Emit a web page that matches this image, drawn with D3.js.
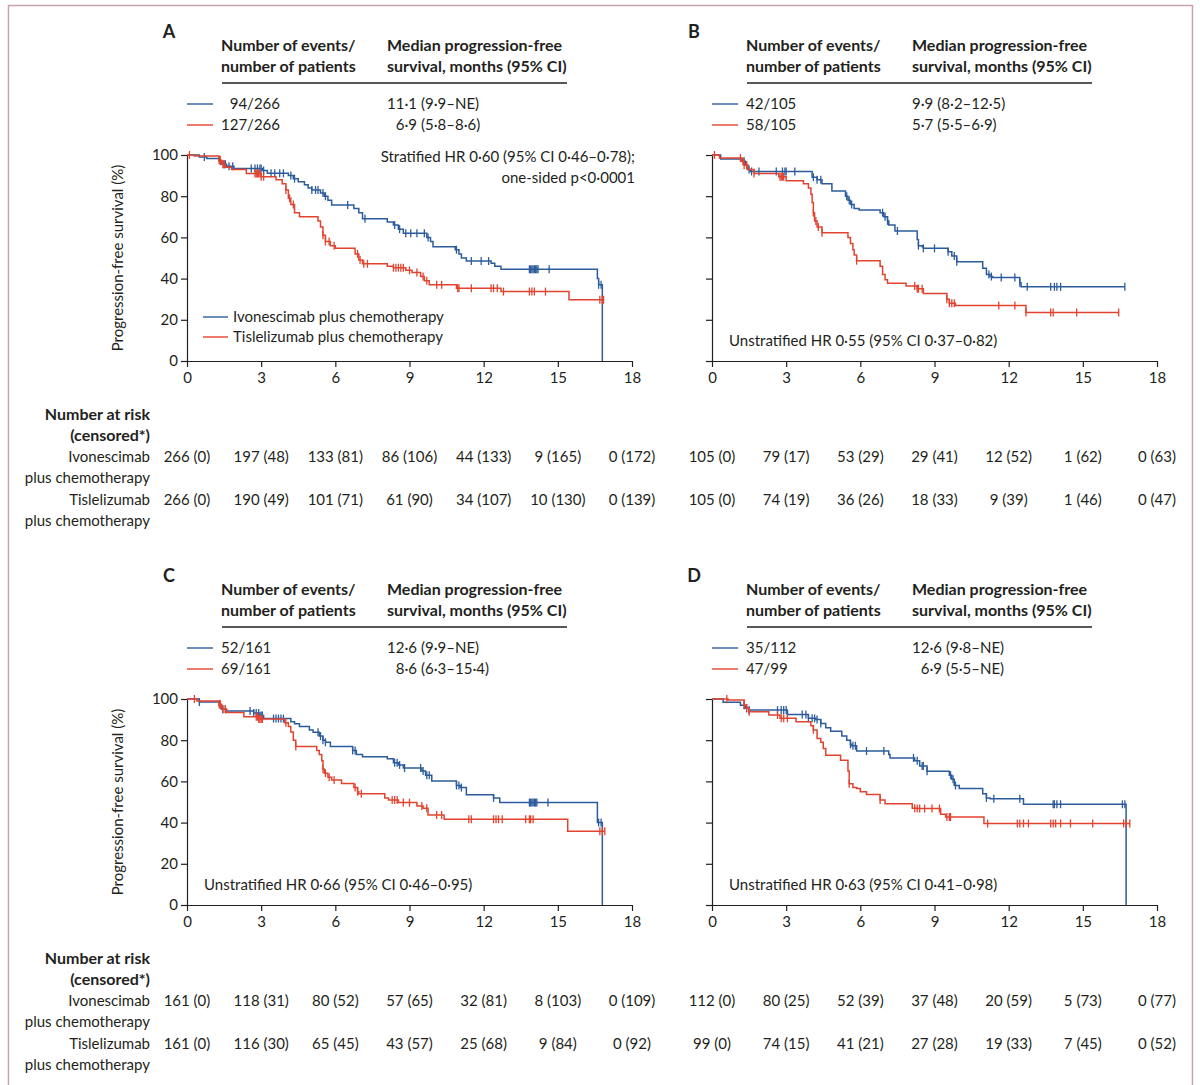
<!DOCTYPE html>
<html>
<head>
<meta charset="utf-8">
<script src="https://cdn.jsdelivr.net/npm/d3@7"></script>
<style>
  body { margin: 0; background: #fff; }
  svg { display: block; font-family: Lato, "Open Sans", sans-serif; }
</style>
</head>
<body>
<svg id="chart" width="1200" height="1085"></svg>
<script>
// Kaplan-Meier panels A-D, progression-free survival
// step arrays hold [month, survival % after the drop]; censor arrays hold months

const months = [0, 3, 6, 9, 12, 15, 18];
const pctTicks = [0, 20, 40, 60, 80, 100];
const armNames = ["Ivonescimab plus chemotherapy", "Tislelizumab plus chemotherapy"];
const riskRowLabels = ["Number at risk", "(censored*)", "Ivonescimab", "plus chemotherapy", "Tislelizumab", "plus chemotherapy"];
const headerEvents = ["Number of events/", "number of patients"];
const headerMedian = ["Median progression-free", "survival, months (95% CI)"];

// ---- panel A
const aEvents = [["94", "/266"], ["127", "/266"]];
const aMedians = [["11·1", "(9·9–NE)"], ["6·9", "(5·8–8·6)"]];
const aHR = ["Stratified HR 0·60 (95% CI 0·46–0·78);", "one-sided p<0·0001"];
const aRiskIvo = ["266 (0)", "197 (48)", "133 (81)", "86 (106)", "44 (133)", "9 (165)", "0 (172)"];
const aRiskTis = ["266 (0)", "190 (49)", "101 (71)", "61 (90)", "34 (107)", "10 (130)", "0 (139)"];
const aIvoSteps = [[0.5,99],[0.8,98.3],[1.3,97],[1.45,95.5],[1.6,94.5],[1.9,93.5],[3.05,92.5],[3.25,91.1],[4.1,90],[4.3,88.5],[4.5,87],[4.75,85.5],[4.9,84],[5.05,83],[5.4,81.5],[5.55,80],[5.7,78],[5.85,75.7],[6.75,74],[6.95,72],[7.1,69],[8.1,67.5],[8.35,66],[8.55,64],[8.75,62],[9.7,60],[9.85,58],[9.95,55.5],[10.85,54],[11.0,52],[11.1,50],[11.3,48.5],[12.3,47.5],[12.45,46],[12.7,44.5],[16.6,40],[16.65,37],[16.8,0]];
const aIvoCens = [0.7,1.35,1.5,1.55,1.7,1.85,2.6,2.75,2.85,2.95,3.0,3.1,3.4,3.55,3.75,3.9,4.2,4.35,5.05,5.2,5.3,5.5,5.6,6.5,7.2,8.4,8.6,8.85,9.05,9.3,9.6,9.75,10.9,11.5,11.9,12.2,13.85,13.9,13.95,14.0,14.05,14.1,14.15,14.2,14.65,16.65,16.75];
const aIvoEnd = 16.8;
const aTisSteps = [[0.3,99.5],[1.3,97.5],[1.4,95.5],[1.55,94],[1.8,93],[2.4,91],[3.0,89.5],[3.6,88],[3.85,86],[4.0,83],[4.1,79],[4.2,76],[4.35,72],[4.55,70],[5.3,68],[5.4,65],[5.5,61],[5.6,58],[5.8,56],[6.0,54.7],[6.8,52],[6.95,49],[7.1,47.2],[8.1,46],[8.35,45.3],[8.85,44],[9.1,43],[9.45,41],[9.6,39],[9.8,37],[10.9,35.3],[12.7,33.7],[15.45,29.7]];
const aTisCens = [0.1,1.3,1.35,1.45,1.5,2.75,2.8,2.85,2.9,2.95,3.0,3.1,4.0,4.15,4.3,5.5,5.6,5.75,5.95,6.9,7.0,7.15,7.3,8.35,8.45,8.55,8.65,8.75,9.0,9.3,9.55,9.7,10.1,10.3,10.95,11.0,11.5,12.3,12.4,12.55,12.8,13.85,13.95,14.05,14.5,16.7,16.8,16.85];
const aTisEnd = 16.85;

// ---- panel B
const bEvents = [["42", "/105"], ["58", "/105"]];
const bMedians = [["9·9", "(8·2–12·5)"], ["5·7", "(5·5–6·9)"]];
const bHR = ["Unstratified HR 0·55 (95% CI 0·37–0·82)"];
const bRiskIvo = ["105 (0)", "79 (17)", "53 (29)", "29 (41)", "12 (52)", "1 (62)", "0 (63)"];
const bRiskTis = ["105 (0)", "74 (19)", "36 (26)", "18 (33)", "9 (39)", "1 (46)", "0 (47)"];
const bIvoSteps = [[0.35,98],[1.25,97],[1.35,95],[1.45,93],[1.55,92],[4.05,89.2],[4.25,88],[4.45,86],[4.85,82.5],[5.4,80],[5.5,78],[5.6,76],[5.75,74],[5.95,73.3],[6.8,72],[6.95,70],[7.1,68],[7.15,66],[7.4,63.1],[8.3,59],[8.35,56],[8.5,55.5],[8.55,54.7],[9.55,53],[9.7,51],[9.9,48.2],[10.95,45],[11.1,42],[11.25,41],[11.35,40.5],[12.45,38],[12.5,36]];
const bIvoCens = [1.3,1.4,1.5,1.6,1.9,2.6,2.85,2.95,3.0,3.35,4.1,4.25,4.4,5.45,5.55,5.65,6.9,7.0,7.1,7.5,8.35,8.55,9.0,9.55,9.8,9.9,11.2,11.3,11.7,12.25,12.45,12.75,13.7,13.85,13.95,14.1,16.7];
const bIvoEnd = 16.7;
const bTisSteps = [[0.3,98.5],[1.2,97],[1.3,95],[1.45,93],[1.7,91],[2.7,89.5],[3.0,87.5],[3.7,86],[3.9,84],[4.0,81],[4.05,77],[4.1,72],[4.15,68],[4.25,65],[4.45,62.3],[5.5,60],[5.6,57],[5.7,54],[5.75,51.5],[5.85,48.7],[6.8,46],[6.9,42],[7.0,39.5],[7.1,37.7],[7.85,36.4],[8.3,35.1],[8.55,32.8],[9.5,30],[9.6,28],[9.85,26.9],[12.7,23.5]];
const bTisCens = [0.1,1.15,1.25,1.3,1.4,1.7,2.75,2.8,2.85,2.9,4.1,4.2,4.3,4.45,5.85,8.2,8.3,8.35,8.5,9.5,9.6,9.7,9.8,11.6,12.25,12.7,13.7,13.8,14.75,16.45];
const bTisEnd = 16.45;

// ---- panel C
const cEvents = [["52", "/161"], ["69", "/161"]];
const cMedians = [["12·6", "(9·9–NE)"], ["8·6", "(6·3–15·4)"]];
const cHR = ["Unstratified HR 0·66 (95% CI 0·46–0·95)"];
const cRiskIvo = ["161 (0)", "118 (31)", "80 (52)", "57 (65)", "32 (81)", "8 (103)", "0 (109)"];
const cRiskTis = ["161 (0)", "116 (30)", "65 (45)", "43 (57)", "25 (68)", "9 (84)", "0 (92)"];
const cIvoSteps = [[0.5,98.5],[1.3,97],[1.4,95],[1.6,94.2],[2.7,93.2],[2.95,92],[3.1,90.5],[4.2,89],[4.35,88],[4.55,86.6],[4.95,85],[5.1,83.8],[5.35,82],[5.5,80],[5.6,79],[5.8,77],[6.7,75],[6.85,73],[7.1,72],[8.1,71],[8.35,69],[8.55,68],[8.75,66.5],[9.5,65],[9.65,63],[9.9,60.2],[10.9,58],[11.05,57],[11.3,53.5],[12.4,52],[12.65,49.7],[16.6,40],[16.8,0]];
const cIvoCens = [0.5,1.35,1.45,1.55,2.55,2.7,2.8,2.9,3.0,3.05,3.5,3.6,3.7,3.8,3.9,5.3,5.4,5.5,5.6,6.7,6.8,8.4,8.5,8.6,8.8,9.45,9.55,9.7,9.8,10.9,11.0,11.1,12.4,13.85,13.9,13.95,14.0,14.05,14.1,14.15,14.6,16.65,16.75];
const cIvoEnd = 16.8;
const cTisSteps = [[0.4,99],[1.3,97.5],[1.4,95],[1.6,93.5],[2.3,91.4],[2.9,90.3],[3.95,88.5],[4.1,86.6],[4.2,84],[4.3,80],[4.4,76.9],[5.25,75],[5.35,73],[5.45,70],[5.5,66],[5.55,64],[5.7,62],[5.85,60.7],[6.25,59],[6.75,57],[6.9,55],[6.95,54],[8.0,52],[8.15,51],[8.55,49.7],[9.3,48],[9.55,47],[9.75,43.7],[10.4,41.6],[15.4,35.8]];
const cTisCens = [0.3,1.3,1.35,1.45,1.55,2.8,2.85,2.9,2.95,3.0,3.05,4.0,4.4,5.5,5.6,5.75,5.95,6.8,6.9,7.05,8.3,8.4,8.5,8.75,9.0,9.5,9.7,10.1,10.3,11.4,11.5,12.4,12.5,12.6,12.75,13.7,13.85,13.9,14.0,16.7,16.8,16.9];
const cTisEnd = 16.9;

// ---- panel D
const dEvents = [["35", "/112"], ["47", "/99"]];
const dMedians = [["12·6", "(9·8–NE)"], ["6·9", "(5·5–NE)"]];
const dHR = ["Unstratified HR 0·63 (95% CI 0·41–0·98)"];
const dRiskIvo = ["112 (0)", "80 (25)", "52 (39)", "37 (48)", "20 (59)", "5 (73)", "0 (77)"];
const dRiskTis = ["99 (0)", "74 (15)", "41 (21)", "27 (28)", "19 (33)", "7 (45)", "0 (52)"];
const dIvoSteps = [[0.45,98.4],[1.15,97],[1.35,95.5],[1.5,94.6],[3.05,92.5],[3.9,90.6],[4.2,90],[4.4,88.1],[4.6,86],[4.8,84.4],[5.25,82],[5.45,80],[5.6,78],[5.65,77.3],[5.85,74.7],[7.15,73],[7.2,71.4],[8.2,70],[8.4,67.5],[8.7,64.9],[9.6,63],[9.7,61],[9.8,58],[10.0,56.5],[10.95,54],[11.1,52],[11.25,51.6],[12.6,48.9],[16.75,0]];
const dIvoCens = [1.3,1.4,1.5,2.65,2.8,2.9,3.0,3.05,3.65,3.8,3.9,4.05,4.15,4.25,4.4,5.6,5.7,5.8,6.25,6.95,8.15,8.3,8.5,8.55,8.7,9.65,9.75,9.85,11.1,11.4,12.45,13.8,13.85,13.95,14.1,16.6,16.7];
const dIvoEnd = 16.75;
const dTisSteps = [[0.65,99.5],[1.3,97],[1.4,95.5],[1.5,93.8],[2.3,92.2],[2.75,90.6],[3.4,89],[4.0,87],[4.1,85],[4.25,80.8],[4.4,79],[4.5,76],[4.6,72.7],[5.2,70.3],[5.5,65],[5.55,58.9],[5.7,57],[5.85,56.5],[6.0,55],[6.25,53.7],[6.8,51],[7.0,49.2],[8.1,47],[8.3,46.8],[9.25,44],[9.45,42.7],[11.0,39.6]];
const dTisCens = [0.6,1.3,1.4,1.5,2.65,2.8,2.9,3.05,4.1,5.55,6.8,8.2,8.3,8.4,8.6,8.9,9.2,9.5,9.6,9.65,11.15,12.35,12.45,12.6,12.8,13.7,13.8,13.9,14.1,14.5,15.4,16.65,16.75,16.9];
const dTisEnd = 16.9;

// ---- layout
const W = 445, H = 206;
const blue = "#2c5c9c", red = "#e2432f", ink = "#231f20";
const fontSize = 15;
const boldSize = 16;

const panels = [
  { id: "A", ox: 187, oy: 361, yLabels: true, legend: true, hrRight: true,
    events: aEvents, medians: aMedians, hr: aHR, riskIvo: aRiskIvo, riskTis: aRiskTis,
    arms: [{ steps: aIvoSteps, cens: aIvoCens, end: aIvoEnd, color: blue },
           { steps: aTisSteps, cens: aTisCens, end: aTisEnd, color: red }] },
  { id: "B", ox: 712, oy: 361, yLabels: false,
    events: bEvents, medians: bMedians, hr: bHR, riskIvo: bRiskIvo, riskTis: bRiskTis,
    arms: [{ steps: bIvoSteps, cens: bIvoCens, end: bIvoEnd, color: blue },
           { steps: bTisSteps, cens: bTisCens, end: bTisEnd, color: red }] },
  { id: "C", ox: 187, oy: 905, yLabels: true,
    events: cEvents, medians: cMedians, hr: cHR, riskIvo: cRiskIvo, riskTis: cRiskTis,
    arms: [{ steps: cIvoSteps, cens: cIvoCens, end: cIvoEnd, color: blue },
           { steps: cTisSteps, cens: cTisCens, end: cTisEnd, color: red }] },
  { id: "D", ox: 712, oy: 905, yLabels: false,
    events: dEvents, medians: dMedians, hr: dHR, riskIvo: dRiskIvo, riskTis: dRiskTis,
    arms: [{ steps: dIvoSteps, cens: dIvoCens, end: dIvoEnd, color: blue },
           { steps: dTisSteps, cens: dTisCens, end: dTisEnd, color: red }] }
];

const svg = d3.select("#chart");

// figure frame
svg.append("rect")
  .attr("x", 8.5).attr("y", 5.5)
  .attr("width", 1184).attr("height", 1100)
  .attr("fill", "none")
  .attr("stroke", "#c9a2b2")
  .attr("stroke-width", 1.5);

function surv(steps, t) {
  let s = 100;
  for (const [tt, ss] of steps) if (tt <= t) s = ss;
  return s;
}

function addText(g, x, y, str, opts = {}) {
  return g.append("text")
    .attr("x", x).attr("y", y)
    .attr("font-size", opts.size || (opts.bold ? boldSize : fontSize))
    .attr("font-weight", opts.bold ? 700 : 400)
    .attr("text-anchor", opts.anchor || "start")
    .attr("fill", ink)
    .text(str);
}

// leading part right-aligned to the widest one, rest follows after it
function alignedColumn(g, x, ys, rows) {
  const leads = rows.map((r, i) => addText(g, x, ys[i], r[0]));
  const maxW = d3.max(leads, t => t.node().getComputedTextLength());
  leads.forEach(t => t.attr("x", x + maxW).attr("text-anchor", "end"));
  const gap = rows[0][1].startsWith("/") ? 0 : 4;
  rows.forEach((r, i) => addText(g, x + maxW + gap, ys[i], r[1]));
}

function drawPanel(p) {
  const g = svg.append("g").attr("id", "panel" + p.id);
  const x = d3.scaleLinear().domain([0, 18]).range([p.ox, p.ox + W]);
  const y = d3.scaleLinear().domain([0, 100]).range([p.oy, p.oy - H]);

  // axes
  const xa = g.append("g")
    .attr("transform", `translate(0,${p.oy})`)
    .call(d3.axisBottom(x).tickValues(months).tickSize(6).tickSizeOuter(0).tickPadding(5));
  const yAxis = d3.axisLeft(y).tickValues(pctTicks).tickSize(6).tickSizeOuter(0).tickPadding(3);
  if (!p.yLabels) yAxis.tickFormat("");
  const ya = g.append("g")
    .attr("transform", `translate(${p.ox},0)`)
    .call(yAxis);
  [xa, ya].forEach(a => {
    a.attr("font-family", null).attr("font-size", fontSize);
    a.selectAll("path, line").attr("stroke", ink).attr("stroke-width", 1.2);
    a.selectAll("text").attr("fill", ink);
  });

  if (p.yLabels) {
    g.append("text")
      .attr("transform", `translate(${p.ox - 64},${p.oy - H / 2}) rotate(-90)`)
      .attr("text-anchor", "middle")
      .attr("font-size", fontSize)
      .attr("fill", ink)
      .text("Progression-free survival (%)");
  }

  // curves
  const line = d3.line().x(d => x(d[0])).y(d => y(d[1])).curve(d3.curveStepAfter);
  p.arms.forEach(arm => {
    const last = arm.steps[arm.steps.length - 1][1];
    const pts = [[0, 100], ...arm.steps, [arm.end, last]];
    g.append("path")
      .attr("d", line(pts))
      .attr("fill", "none")
      .attr("stroke", arm.color)
      .attr("stroke-width", 1.5);
    g.selectAll(null)
      .data(arm.cens)
      .join("line")
      .attr("x1", d => x(d)).attr("x2", d => x(d))
      .attr("y1", d => y(surv(arm.steps, d)) - 4)
      .attr("y2", d => y(surv(arm.steps, d)) + 4)
      .attr("stroke", arm.color)
      .attr("stroke-width", 1.3);
  });

  // header block
  addText(g, p.ox - 18, p.oy - 323, p.id, { bold: true, size: 18, anchor: "middle" });
  headerEvents.forEach((s, i) => addText(g, p.ox + 34, p.oy - 310 + i * 21, s, { bold: true }));
  headerMedian.forEach((s, i) => addText(g, p.ox + 200, p.oy - 310 + i * 21, s, { bold: true }));
  g.append("line")
    .attr("x1", p.ox + 35).attr("x2", p.ox + 380)
    .attr("y1", p.oy - 278).attr("y2", p.oy - 278)
    .attr("stroke", ink).attr("stroke-width", 1.5);
  const rowY = [p.oy - 257, p.oy - 236];
  [blue, red].forEach((c, i) => {
    g.append("line")
      .attr("x1", p.ox).attr("x2", p.ox + 26)
      .attr("y1", rowY[i]).attr("y2", rowY[i])
      .attr("stroke", c).attr("stroke-width", 1.4);
  });
  const rowBase = rowY.map(v => v + 5);
  alignedColumn(g, p.ox + 34, rowBase, p.events);
  alignedColumn(g, p.ox + 200, rowBase, p.medians);

  // hazard ratio note
  if (p.hrRight) {
    p.hr.forEach((s, i) => addText(g, p.ox + 448, p.oy - 199 + i * 21, s, { anchor: "end" }));
  } else {
    p.hr.forEach(s => addText(g, p.ox + 17, p.oy - 15, s));
  }

  // legend inside panel A
  if (p.legend) {
    [blue, red].forEach((c, i) => {
      const ly = p.oy - 44 + i * 20;
      g.append("line")
        .attr("x1", p.ox + 16).attr("x2", p.ox + 41)
        .attr("y1", ly).attr("y2", ly)
        .attr("stroke", c).attr("stroke-width", 1.4);
      addText(g, p.ox + 46, ly + 5, armNames[i]);
    });
  }

  // number at risk table
  const riskY = [54, 75, 96, 117, 139, 160].map(v => p.oy + v + 5);
  if (p.yLabels) {
    riskRowLabels.forEach((s, i) =>
      addText(g, p.ox - 37, riskY[i], s, { anchor: "end", bold: i < 2 }));
  }
  [[p.riskIvo, riskY[2]], [p.riskTis, riskY[4]]].forEach(([vals, ry]) => {
    g.selectAll(null)
      .data(vals)
      .join("text")
      .attr("x", (d, i) => x(months[i]))
      .attr("y", ry)
      .attr("text-anchor", "middle")
      .attr("font-size", fontSize)
      .attr("fill", ink)
      .text(d => d);
  });
}

panels.forEach(drawPanel);
</script>
</body>
</html>
